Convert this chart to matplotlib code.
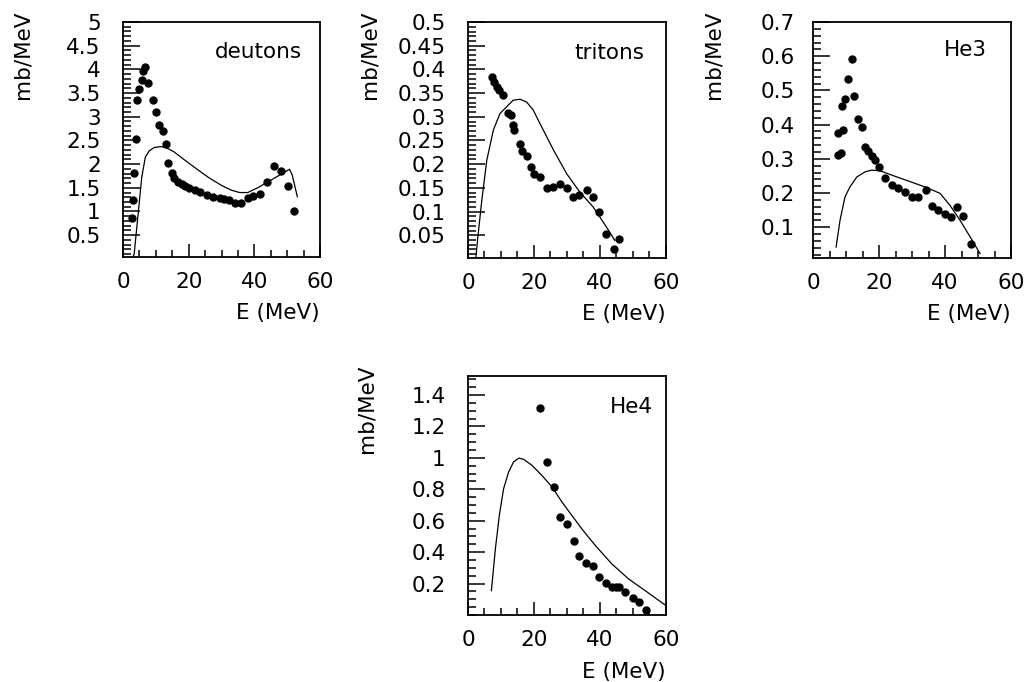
import matplotlib
matplotlib.use('Agg')
import matplotlib.pyplot as plt
import numpy as np
from matplotlib.ticker import FixedLocator, MultipleLocator, FuncFormatter

# deutons
deut_x = [2.6, 3.0, 3.3, 3.9, 4.3, 5.0, 5.7, 6.2, 6.6, 7.7, 9.0, 10.1, 11.1, 12.1, 13.0,
          13.8, 14.8, 15.5, 16.7, 17.9, 18.9, 20.2, 22.0, 23.5, 25.5, 27.5, 29.4, 30.8,
          32.4, 34.1, 35.9, 38.2, 39.5, 41.8, 43.8, 46.0, 48.1, 50.1, 52.1]
deut_y = [0.86, 1.24, 1.82, 2.53, 3.35, 3.58, 3.78, 3.97, 4.05, 3.72, 3.35, 3.11, 2.83,
          2.69, 2.43, 2.02, 1.81, 1.70, 1.63, 1.58, 1.53, 1.49, 1.46, 1.42, 1.35, 1.31,
          1.28, 1.26, 1.25, 1.18, 1.18, 1.28, 1.33, 1.37, 1.63, 1.95, 1.86, 1.54, 1.0]
deut_cx = [2.9, 3.4, 4.1, 4.9, 5.7, 6.8, 8.0, 9.5, 11.5, 13.0, 15.5, 18.5, 22.0, 26.0,
           30.0, 33.0, 35.5, 38.0, 41.0, 44.0, 47.5, 50.7, 51.5, 53.1]
deut_cy = [0.03, 0.1, 0.6, 1.15, 1.72, 2.15, 2.28, 2.35, 2.37, 2.35, 2.26, 2.10, 1.92,
           1.72, 1.55, 1.45, 1.40, 1.40, 1.50, 1.62, 1.76, 1.89, 1.78, 1.31]

# tritons
trit_x = [7.2, 7.9, 8.7, 9.5, 10.5, 12.2, 12.9, 13.5, 13.9, 15.8, 16.3, 17.8, 19.0, 20.0,
          21.8, 23.8, 25.9, 27.9, 29.9, 31.9, 33.7, 36.0, 38.0, 39.8, 41.8, 44.2, 45.9]
trit_y = [0.383, 0.374, 0.362, 0.356, 0.346, 0.308, 0.303, 0.282, 0.272, 0.242, 0.228,
          0.217, 0.194, 0.179, 0.172, 0.149, 0.152, 0.159, 0.149, 0.131, 0.136, 0.145,
          0.131, 0.099, 0.053, 0.022, 0.043]
trit_cx = [2.4, 3.1, 4.2, 5.7, 7.7, 9.7, 11.7, 13.7, 15.8, 17.8, 19.8, 21.8, 25.9, 29.9,
           33.9, 37.9, 42.0, 44.5]
trit_cy = [0.004, 0.053, 0.124, 0.208, 0.272, 0.307, 0.321, 0.335, 0.337, 0.331, 0.314,
           0.286, 0.230, 0.180, 0.141, 0.110, 0.067, 0.039]

# He3
he3_x = [7.7, 8.4, 7.7, 9.0, 8.9, 9.7, 10.7, 11.9, 12.5, 13.7, 14.7, 15.8, 16.8, 17.8,
         18.8, 20.1, 21.8, 23.9, 25.9, 27.9, 29.9, 31.7, 34.2, 36.0, 38.0, 40.0, 41.8,
         43.5, 45.6, 47.8]
he3_y = [0.311, 0.316, 0.376, 0.384, 0.454, 0.474, 0.532, 0.591, 0.483, 0.415, 0.392,
         0.335, 0.322, 0.308, 0.298, 0.277, 0.245, 0.223, 0.215, 0.203, 0.187, 0.189,
         0.210, 0.162, 0.150, 0.140, 0.130, 0.159, 0.132, 0.052]
he3_cx = [7.0, 8.2, 9.7, 11.2, 13.3, 15.8, 17.8, 20.3, 25.4, 30.4, 34.4, 38.5, 41.5,
          44.5, 47.6, 50.6]
he3_cy = [0.042, 0.121, 0.189, 0.218, 0.247, 0.262, 0.267, 0.265, 0.247, 0.230, 0.216,
          0.199, 0.164, 0.121, 0.072, 0.023]

# He4
he4_x = [21.7, 23.9, 26.0, 27.8, 30.0, 32.0, 33.7, 35.8, 37.8, 39.8, 41.8, 43.6, 45.0,
         45.7, 47.7, 49.9, 51.7, 53.9]
he4_y = [1.317, 0.973, 0.814, 0.622, 0.576, 0.474, 0.378, 0.331, 0.310, 0.240, 0.202,
         0.176, 0.178, 0.176, 0.144, 0.106, 0.081, 0.034]
he4_cx = [7.1, 8.3, 9.5, 10.8, 12.3, 13.8, 15.4, 16.9, 19.4, 22.4, 25.5, 28.5, 31.5,
          34.5, 38.6, 43.6, 48.7, 53.7, 59.6]
he4_cy = [0.155, 0.420, 0.633, 0.803, 0.909, 0.973, 0.998, 0.990, 0.952, 0.888, 0.814,
          0.718, 0.633, 0.548, 0.442, 0.325, 0.229, 0.155, 0.066]

plt.rcParams['font.family'] = 'DejaVu Sans'
fs = 15.5

fig = plt.figure(figsize=(10.26, 6.82), dpi=100)


def panel(rect, px, py, cx, cy, ylim, ymaj, ymin, name, nx, ny, ypad=16, labx=-0.5):
    ax = fig.add_axes(rect)
    ax.plot(cx, cy, color='black', lw=0.9)
    ax.plot(px, py, 'o', color='black', ms=5, mec='black')
    ax.set_xlim(0, 60)
    ax.set_ylim(*ylim)
    ax.xaxis.set_major_locator(FixedLocator([0, 20, 40, 60]))
    ax.xaxis.set_minor_locator(MultipleLocator(5))
    ax.yaxis.set_major_locator(FixedLocator(ymaj))
    ax.yaxis.set_minor_locator(MultipleLocator(ymin))
    ax.yaxis.set_major_formatter(FuncFormatter(lambda v, p: '%g' % round(v, 3)))
    ax.tick_params(axis='both', which='both', direction='in', top=False, right=False,
                   width=1.1, labelsize=fs)
    ax.tick_params(axis='y', which='major', length=12, pad=ypad)
    ax.tick_params(axis='y', which='minor', length=6)
    ax.tick_params(axis='x', which='major', length=9.5, pad=10.5)
    ax.tick_params(axis='x', which='minor', length=5)
    for s in ax.spines.values():
        s.set_linewidth(1.3)
    ax.text(nx, ny, name, transform=ax.transAxes, ha='right', va='center', fontsize=fs)
    ax.text(1.0, -0.238, 'E (MeV)', transform=ax.transAxes, ha='right', va='center',
            fontsize=fs)
    ax.text(labx, 1.05, 'mb/MeV', transform=ax.transAxes, rotation=90, ha='center',
            va='top', fontsize=fs)
    return ax


panel([0.1199, 0.6232, 0.192, 0.3446], deut_x, deut_y, deut_cx, deut_cy, (0.04, 5.0),
      np.arange(0.5, 5.01, 0.5), 0.1, 'deutons', 0.909, 0.872, labx=-0.508)
panel([0.4561, 0.6217, 0.193, 0.346], trit_x, trit_y, trit_cx, trit_cy, (0.002, 0.5),
      np.arange(0.05, 0.501, 0.05), 0.01, 'tritons', 0.889, 0.869, labx=-0.495)
panel([0.7924, 0.6217, 0.193, 0.346], he3_x, he3_y, he3_cx, he3_cy, (0.01, 0.7),
      np.arange(0.1, 0.701, 0.1), 0.02, 'He3', 0.879, 0.881, ypad=13, labx=-0.505)
panel([0.4561, 0.0982, 0.193, 0.3504], he4_x, he4_y, he4_cx, he4_cy, (0.0, 1.52),
      np.arange(0.2, 1.41, 0.2), 0.05, 'He4', 0.934, 0.872, labx=-0.51)

fig.savefig('out.png', dpi=100)
